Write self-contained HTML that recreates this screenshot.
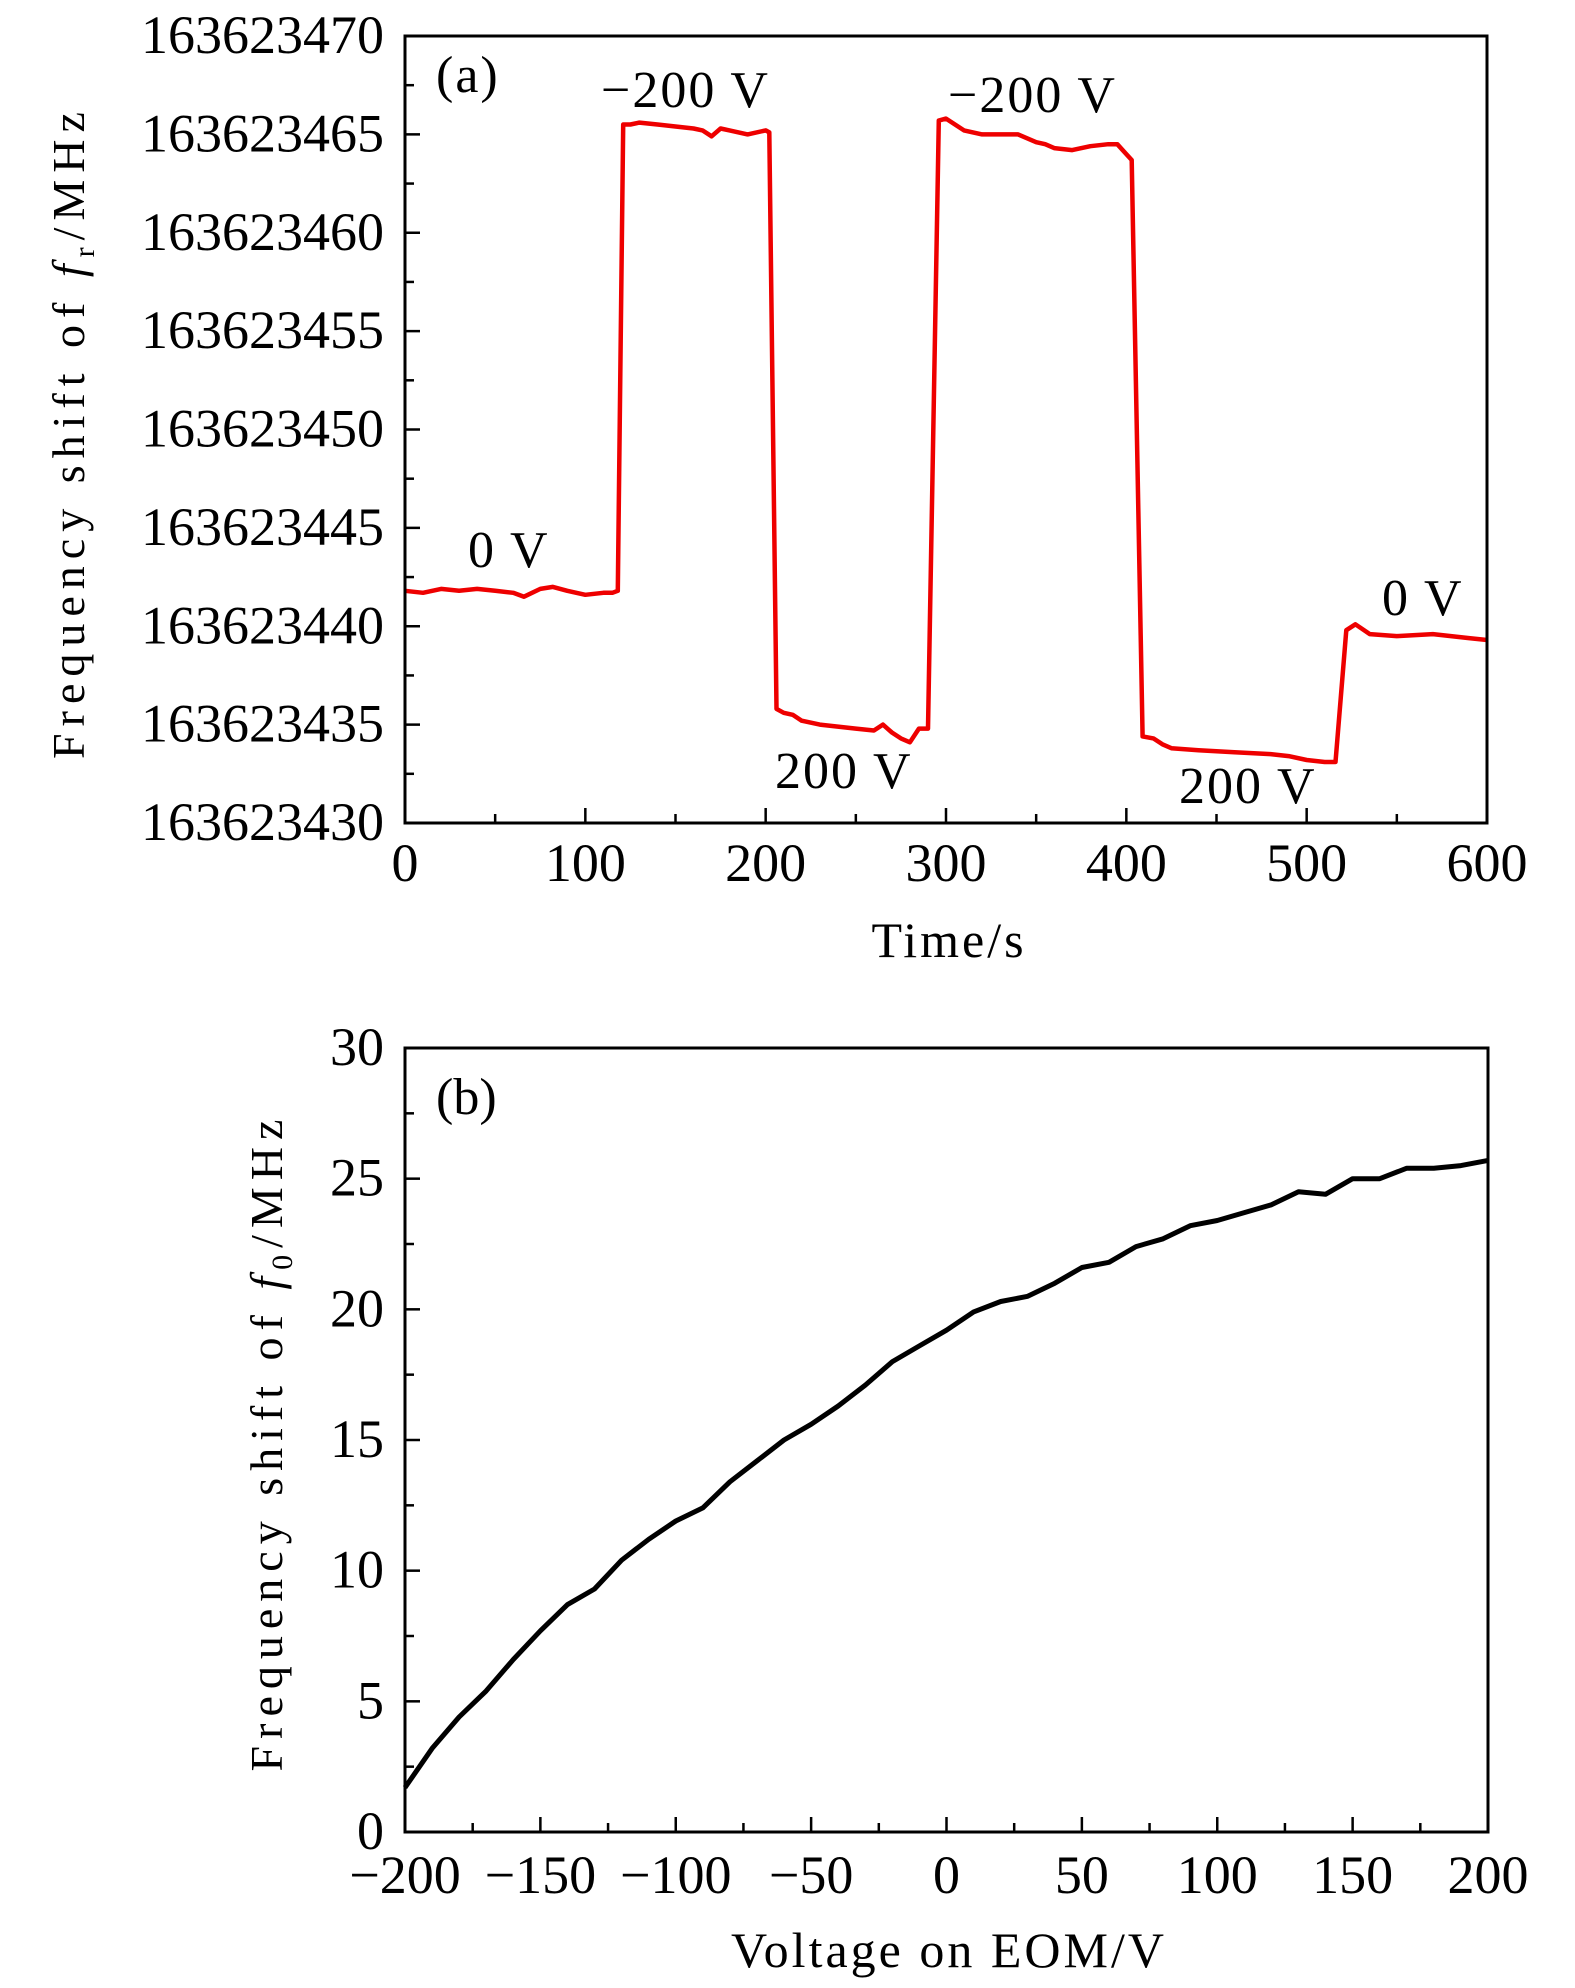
<!DOCTYPE html>
<html><head><meta charset="utf-8"><style>
html,body{margin:0;padding:0;background:#fff;}
svg{display:block;font-family:"Liberation Serif",serif;}
</style></head><body>
<svg id="fig" width="1575" height="1988" viewBox="0 0 1575 1988" xmlns="http://www.w3.org/2000/svg"></svg>
<script>
// Panel (a) data
const timeA = [0,10,20,30,40,50,60,66,75,82,90,100,110,115,118,121,125,130,140,150,160,165,170,175,180,190,200,202,206,210,215,220,230,240,250,260,265,270,275,280,285,290,296,300,305,310,320,330,340,350,355,360,370,380,390,395,400,403,409,415,420,425,440,460,480,490,500,510,516,522,527,535,550,570,590,600];
const freqA = [11.8,11.7,11.9,11.8,11.9,11.8,11.7,11.5,11.9,12.0,11.8,11.6,11.7,11.7,11.8,35.5,35.5,35.6,35.5,35.4,35.3,35.2,34.9,35.3,35.2,35.0,35.2,35.1,5.8,5.6,5.5,5.2,5.0,4.9,4.8,4.7,5.0,4.6,4.3,4.1,4.8,4.8,35.7,35.8,35.5,35.2,35.0,35.0,35.0,34.6,34.5,34.3,34.2,34.4,34.5,34.5,34.0,33.7,4.4,4.3,4.0,3.8,3.7,3.6,3.5,3.4,3.2,3.1,3.1,9.8,10.1,9.6,9.5,9.6,9.4,9.3];
const freqBase = 163623430;
const yTicksA = ["163623430","163623435","163623440","163623445","163623450","163623455","163623460","163623465","163623470"];
const xTicksA = ["0","100","200","300","400","500","600"];
// Panel (b) data
const voltB = [-200,-190,-180,-170,-160,-150,-140,-130,-120,-110,-100,-90,-80,-70,-60,-50,-40,-30,-20,-10,0,10,20,30,40,50,60,70,80,90,100,110,120,130,140,150,160,170,180,190,200];
const shiftB = [1.7,3.2,4.4,5.4,6.6,7.7,8.7,9.3,10.4,11.2,11.9,12.4,13.4,14.2,15.0,15.6,16.3,17.1,18.0,18.6,19.2,19.9,20.3,20.5,21.0,21.6,21.8,22.4,22.7,23.2,23.4,23.7,24.0,24.5,24.4,25.0,25.0,25.4,25.4,25.5,25.7];
const yTicksB = ["0","5","10","15","20","25","30"];
const xTicksB = ["\u2212200","\u2212150","\u2212100","\u221250","0","50","100","150","200"];

const NS="http://www.w3.org/2000/svg";
const svg=document.getElementById('fig');
function el(tag,attrs,parent){const e=document.createElementNS(NS,tag);for(const k in attrs)e.setAttribute(k,attrs[k]);(parent||svg).appendChild(e);return e;}
function txt(s,attrs,parent){const e=el('text',attrs,parent);e.textContent=s;return e;}

// ---------- Panel A ----------
const A={l:405,r:1487,t:36,b:823,x0:0,x1:600,y0:0,y1:40};
const xA=v=>A.l+(v-A.x0)/(A.x1-A.x0)*(A.r-A.l);
const yA=v=>A.b-(v-A.y0)/(A.y1-A.y0)*(A.b-A.t);
const gA=el('g',{});


for(let i=0;i<=16;i++){const v=i*2.5;const y=yA(v);const len=i%2===0?15:9;
  const tk=el('line',{x1:A.l,x2:A.l+len,y1:y,y2:y,stroke:'#000','stroke-width':2.5},gA);
  
  }
yTicksA.forEach((s,i)=>{const t=txt(s,{x:384,y:yA(i*5)+17,'text-anchor':'end','font-size':54},gA);
  
  });
for(let i=0;i<=12;i++){const v=i*50;const x=xA(v);const len=i%2===0?15:9;
  const tk=el('line',{x1:x,x2:x,y1:A.b,y2:A.b-len,stroke:'#000','stroke-width':2.5},gA);
  
  }
xTicksA.forEach((s,i)=>{const t=txt(s,{x:xA(i*100),y:881,'text-anchor':'middle','font-size':54},gA);
  
  });
let dA='';timeA.forEach((t,i)=>{dA+=(i?'L':'M')+xA(t).toFixed(1)+','+yA(freqA[i]).toFixed(1);});
const lineA=el('path',{d:dA,fill:'none',stroke:'#ee0000','stroke-width':4.5,'stroke-linejoin':'round'},gA);


const frA=el('rect',{x:A.l,y:A.t,width:A.r-A.l,height:A.b-A.t,fill:'none',stroke:'#000','stroke-width':3},gA);


[["(a)",436,92,'panel-label-a',52],["\u2212200 V",601,107,'annotation-neg200-first',52],["\u2212200 V",948,112,'annotation-neg200-second',52],["0 V",468,567,'annotation-0v-first',52],["200 V",775,788,'annotation-200v-first',52],["200 V",1179,803,'annotation-200v-second',52],["0 V",1382,615,'annotation-0v-second',52]].forEach(a=>{
  const t=txt(a[0],{x:a[1],y:a[2],'font-size':a[4],'letter-spacing':'2'},gA);
  
  });
const xtA=txt("Time/s",{x:949,y:957,'text-anchor':'middle','font-size':50,'letter-spacing':'3'},gA);


const ytA=el('text',{transform:'translate(84,432) rotate(-90)','text-anchor':'middle','font-size':46,'letter-spacing':'7'},gA);
ytA.innerHTML='Frequency shift of <tspan font-style="italic">f</tspan><tspan font-size="30" dy="10">r</tspan><tspan dy="-10">/MHz</tspan>';



// ---------- Panel B ----------
const B={l:405,r:1488,t:1048,b:1832,x0:-200,x1:200,y0:0,y1:30};
const xB=v=>B.l+(v-B.x0)/(B.x1-B.x0)*(B.r-B.l);
const yB=v=>B.b-(v-B.y0)/(B.y1-B.y0)*(B.b-B.t);
const gB=el('g',{});


for(let i=0;i<=12;i++){const v=i*2.5;const y=yB(v);const len=i%2===0?15:9;
  const tk=el('line',{x1:B.l,x2:B.l+len,y1:y,y2:y,stroke:'#000','stroke-width':2.5},gB);
  
  }
yTicksB.forEach((s,i)=>{const t=txt(s,{x:384,y:yB(i*5)+17,'text-anchor':'end','font-size':54},gB);
  
  });
for(let i=0;i<=16;i++){const v=-200+i*25;const x=xB(v);const len=i%2===0?15:9;
  const tk=el('line',{x1:x,x2:x,y1:B.b,y2:B.b-len,stroke:'#000','stroke-width':2.5},gB);
  
  }
xTicksB.forEach((s,i)=>{const t=txt(s,{x:xB(-200+i*50),y:1893,'text-anchor':'middle','font-size':54},gB);
  
  });
let dB='';voltB.forEach((v,i)=>{dB+=(i?'L':'M')+xB(v).toFixed(1)+','+yB(shiftB[i]).toFixed(1);});
const lineB=el('path',{d:dB,fill:'none',stroke:'#000','stroke-width':5,'stroke-linejoin':'round'},gB);


const frB=el('rect',{x:B.l,y:B.t,width:B.r-B.l,height:B.b-B.t,fill:'none',stroke:'#000','stroke-width':3},gB);


const pb=txt("(b)",{x:436,y:1114,'font-size':52},gB);


const xtB=txt("Voltage on EOM/V",{x:949,y:1967,'text-anchor':'middle','font-size':50,'letter-spacing':'3'},gB);


const ytB=el('text',{transform:'translate(282,1442) rotate(-90)','text-anchor':'middle','font-size':46,'letter-spacing':'7'},gB);
ytB.innerHTML='Frequency shift of <tspan font-style="italic">f</tspan><tspan font-size="30" dy="10">0</tspan><tspan dy="-10">/MHz</tspan>';


</script>
</body></html>
